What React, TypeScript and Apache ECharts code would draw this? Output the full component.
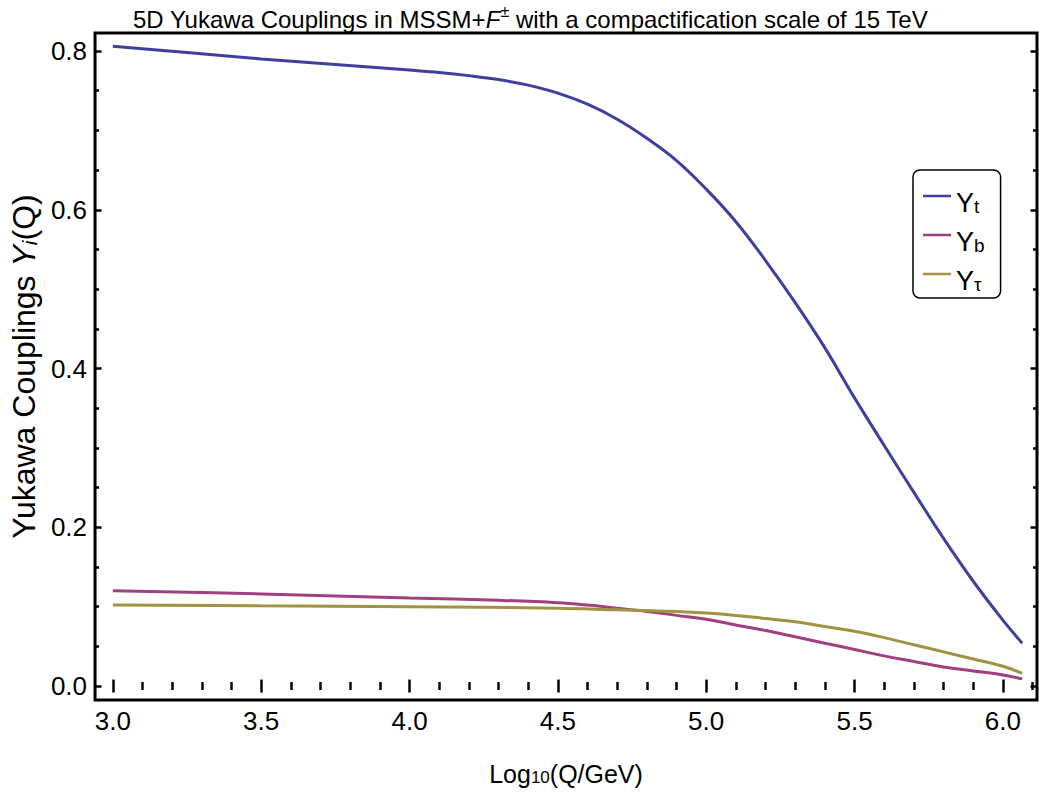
import React, { useEffect, useRef } from "react";
import * as echarts from "echarts";

// ---- data ----
const logQTop = [3.0, 3.25, 3.5, 3.75, 4.0, 4.1, 4.2, 4.3, 4.4, 4.5, 4.6, 4.7, 4.8, 4.9, 5.0, 5.1, 5.2, 5.3, 5.4, 5.5, 5.6, 5.7, 5.8, 5.9, 6.0, 6.065];
const yukawaTop = [0.806, 0.798, 0.790, 0.783, 0.776, 0.773, 0.769, 0.764, 0.757, 0.747, 0.733, 0.714, 0.690, 0.662, 0.626, 0.585, 0.536, 0.483, 0.426, 0.363, 0.303, 0.244, 0.186, 0.132, 0.083, 0.054];

const logQBottom = [3.0, 3.5, 4.0, 4.3, 4.5, 4.6, 4.7, 4.8, 4.9, 5.0, 5.1, 5.2, 5.3, 5.4, 5.5, 5.6, 5.7, 5.8, 5.9, 6.0, 6.065];
const yukawaBottom = [0.120, 0.116, 0.111, 0.108, 0.105, 0.102, 0.098, 0.094, 0.089, 0.084, 0.077, 0.070, 0.062, 0.054, 0.046, 0.038, 0.031, 0.024, 0.019, 0.014, 0.009];

const logQTau = [3.0, 3.5, 4.0, 4.5, 4.7, 4.8, 4.9, 5.0, 5.1, 5.2, 5.3, 5.4, 5.5, 5.6, 5.7, 5.8, 5.9, 6.0, 6.065];
const yukawaTau = [0.102, 0.101, 0.100, 0.098, 0.096, 0.095, 0.094, 0.092, 0.089, 0.085, 0.081, 0.075, 0.069, 0.061, 0.052, 0.043, 0.034, 0.025, 0.016];

const seriesNames = ["Yt", "Yb", "Ytau"];
const legendSubscripts = ["t", "b", "τ"];
const seriesColors = ["#3f3f9f", "#a0407e", "#a09341"];

const xMajorTicks = [3.0, 3.5, 4.0, 4.5, 5.0, 5.5, 6.0];
const xMinorTicks = [3.1, 3.2, 3.3, 3.4, 3.6, 3.7, 3.8, 3.9, 4.1, 4.2, 4.3, 4.4, 4.6, 4.7, 4.8, 4.9, 5.1, 5.2, 5.3, 5.4, 5.6, 5.7, 5.8, 5.9, 6.1];
const yMajorTicks = [0.0, 0.2, 0.4, 0.6, 0.8];
const yMinorTicks = [0.05, 0.1, 0.15, 0.25, 0.3, 0.35, 0.45, 0.5, 0.55, 0.65, 0.7, 0.75];

const X_MIN = 2.94;
const X_MAX = 6.115;
const Y_MIN = -0.0176;
const Y_MAX = 0.8227;

const FONT = "Liberation Sans, Arial, sans-serif";

function zip(xs: number[], ys: number[]) {
  return xs.map((x, i) => [x, ys[i]]);
}

function makeX(position: string, ticks: number[], len: number, labels: boolean, named: boolean) {
  const ax: any = {
    type: "value",
    position,
    min: X_MIN,
    max: X_MAX,
    axisLine: { show: false },
    splitLine: { show: false },
    axisTick: { show: true, inside: true, length: len, customValues: ticks, lineStyle: { color: "#000", width: 2.5 } },
    axisLabel: labels
      ? { show: true, customValues: xMajorTicks, formatter: (v: number) => v.toFixed(1), fontSize: 26, color: "#000", fontFamily: FONT, margin: 8 }
      : { show: false },
  };
  if (named) {
    ax.name = "{a|Log}{s|10}{a|(Q/GeV)}";
    ax.nameLocation = "middle";
    ax.nameGap = 46;
    ax.nameTextStyle = {
      color: "#000",
      fontFamily: FONT,
      rich: {
        a: { fontSize: 25, color: "#000", fontFamily: FONT, verticalAlign: "bottom", lineHeight: 40 },
        s: { fontSize: 17, color: "#000", fontFamily: FONT, verticalAlign: "bottom", lineHeight: 12 },
      },
    };
  }
  return ax;
}

function makeY(position: string, ticks: number[], len: number, labels: boolean, named: boolean) {
  const ax: any = {
    type: "value",
    position,
    min: Y_MIN,
    max: Y_MAX,
    axisLine: { show: false },
    splitLine: { show: false },
    axisTick: { show: true, inside: true, length: len, customValues: ticks, lineStyle: { color: "#000", width: 2.5 } },
    axisLabel: labels
      ? { show: true, customValues: yMajorTicks, formatter: (v: number) => v.toFixed(1), fontSize: 26, color: "#000", fontFamily: FONT, margin: 8 }
      : { show: false },
  };
  if (named) {
    ax.name = "{a|Yukawa Couplings }{i|Y}{si|i}{a|(Q)}";
    ax.nameLocation = "middle";
    ax.nameGap = 50;
    ax.nameTextStyle = {
      color: "#000",
      fontFamily: FONT,
      rich: {
        a: { fontSize: 32, color: "#000", fontFamily: FONT, verticalAlign: "bottom", lineHeight: 44 },
        i: { fontSize: 32, color: "#000", fontFamily: FONT, fontStyle: "italic", verticalAlign: "bottom", lineHeight: 44 },
        si: { fontSize: 21, color: "#000", fontFamily: FONT, fontStyle: "italic", verticalAlign: "bottom", lineHeight: 16 },
      },
    };
  }
  return ax;
}

export default function App() {
  const ref = useRef<HTMLDivElement>(null);
  useEffect(() => {
    if (!ref.current) return;
    const chart = echarts.init(ref.current, null, { renderer: "svg" });
    const datasets = [zip(logQTop, yukawaTop), zip(logQBottom, yukawaBottom), zip(logQTau, yukawaTau)];
    const option: any = {
      animation: false,
      backgroundColor: "#fff",
      title: {
        text: "{a|5D Yukawa Couplings in MSSM+}{f|F}{p|±}{a| with a compactification scale of 15 TeV}",
        left: 133,
        top: 3,
        padding: 0,
        textStyle: {
          fontWeight: "normal",
          rich: {
            a: { fontSize: 24, fontWeight: "normal", color: "#000", fontFamily: FONT, verticalAlign: "bottom", lineHeight: 28 },
            f: { fontSize: 24, fontWeight: "normal", color: "#000", fontFamily: FONT, fontStyle: "italic", verticalAlign: "bottom", lineHeight: 28 },
            p: { fontSize: 16, fontWeight: "normal", color: "#000", fontFamily: FONT, verticalAlign: "top", lineHeight: 28 },
          },
        },
      },
      grid: { left: 88, right: 2, top: 33, bottom: 96, show: true, borderColor: "#000", borderWidth: 3, containLabel: false },
      legend: {
        orient: "vertical",
        left: 913,
        top: 170,
        data: seriesNames,
        icon: "rect",
        itemWidth: 28,
        itemHeight: 2.5,
        itemGap: 12,
        padding: [19, 16, 4, 10],
        borderColor: "#000",
        borderWidth: 1.5,
        borderRadius: 7,
        backgroundColor: "#fff",
        formatter: (name: string) => "{y|Y}{s|" + legendSubscripts[seriesNames.indexOf(name)] + "}",
        textStyle: {
          color: "#000",
          fontFamily: FONT,
          rich: {
            y: { fontSize: 27, color: "#000", fontFamily: FONT, verticalAlign: "bottom", lineHeight: 40 },
            s: { fontSize: 19, color: "#000", fontFamily: FONT, verticalAlign: "bottom", lineHeight: 12 },
          },
        },
      },
      xAxis: [
        makeX("bottom", xMajorTicks, 6.5, true, true),
        makeX("bottom", xMinorTicks, 4, false, false),
        makeX("top", xMajorTicks, 6.5, false, false),
        makeX("top", xMinorTicks, 4, false, false),
      ],
      yAxis: [
        makeY("left", yMajorTicks, 6.5, true, true),
        makeY("left", yMinorTicks, 4, false, false),
        makeY("right", yMajorTicks, 6.5, false, false),
        makeY("right", yMinorTicks, 4, false, false),
      ],
      series: seriesNames.map((name, i) => ({
        name,
        type: "line",
        xAxisIndex: 0,
        yAxisIndex: 0,
        data: datasets[i],
        symbol: "none",
        smooth: 0.4,
        color: seriesColors[i],
        itemStyle: { color: seriesColors[i] },
        lineStyle: { color: seriesColors[i], width: 3 },
        z: 3 + i,
      })),
    };
    chart.setOption(option);
    return () => chart.dispose();
  }, []);
  return <div ref={ref} style={{ position: "absolute", left: 0, top: 0, width: 1039, height: 796 }} />;
}
